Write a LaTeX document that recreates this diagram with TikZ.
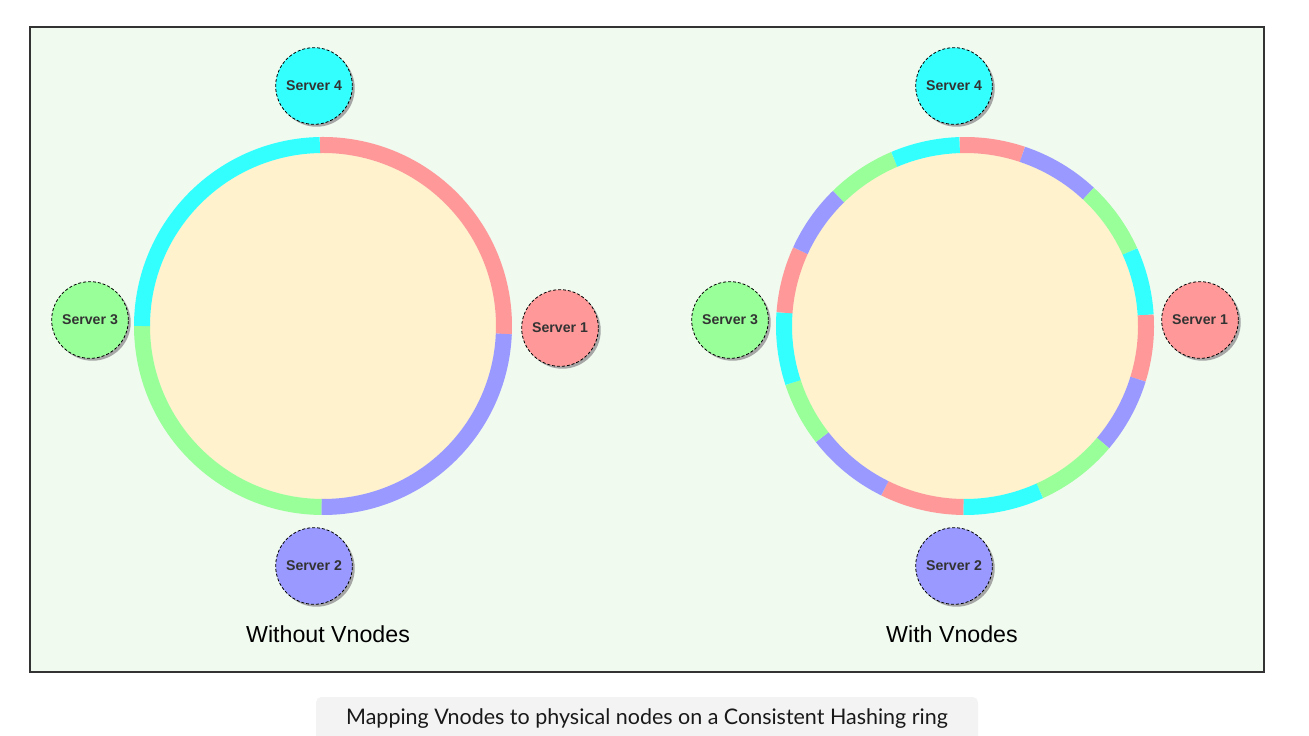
\documentclass[tikz,border=0pt]{standalone}
\usepackage{fontspec}
\setmainfont{Liberation Sans}
\newfontfamily\capfont{Lato}
\usetikzlibrary{shadows}
\definecolor{sred}{HTML}{FF9999}
\definecolor{sblue}{HTML}{9999FF}
\definecolor{sgreen}{HTML}{99FF99}
\definecolor{scyan}{HTML}{33FFFF}
\definecolor{cream}{HTML}{FFF2CC}
\definecolor{bgreen}{HTML}{F0FAEF}
\definecolor{frame}{HTML}{333333}
\definecolor{capbg}{HTML}{F3F3F3}
\definecolor{labtext}{HTML}{333333}
\tikzset{
  server/.style={circle, draw=black, dashed, dash pattern=on 2.2pt off 1.5pt, line width=0.6pt,
    minimum size=57.5pt, inner sep=0pt, text=labtext,
    font=\fontsize{10.6pt}{12pt}\selectfont\bfseries,
    drop shadow={shadow xshift=1.8pt, shadow yshift=-1.8pt, fill=black!35, opacity=1}},
  ringseg/.style={line width=12pt},
  title/.style={font=\fontsize{17.4pt}{20pt}\selectfont, text=black},
}
\begin{document}
\begin{tikzpicture}[x=0.75pt,y=0.75pt]
\useasboundingbox (0,0) rectangle (1309,735);
\fill[white] (0,0) rectangle (1309,735);
% frame
\draw[frame, fill=bgreen, line width=1.3pt] (30,63) rectangle (1264,708);
% left ring
\coordinate (L) at (323,409);
\fill[cream] (L) circle (129.75pt);
\draw[ringseg, sred]   ([shift={(L)}]91:135.75pt) arc (91:-2.5:135.75pt);
\draw[ringseg, sblue]  ([shift={(L)}]-2.5:135.75pt) arc (-2.5:-90.5:135.75pt);
\draw[ringseg, sgreen] ([shift={(L)}]-90.5:135.75pt) arc (-90.5:-180:135.75pt);
\draw[ringseg, scyan]  ([shift={(L)}]180:135.75pt) arc (180:91:135.75pt);
% right ring
\coordinate (R) at (965,409);
\fill[cream] (R) circle (129.75pt);
\foreach \a/\b/\c in {91.7/71.5/sred, 71.5/47/sblue, 47/24.3/sgreen, 24.3/3.5/scyan,
  3.5/-17.1/sred, -17.1/-40.3/sblue, -40.3/-65.6/sgreen, -65.6/-90.5/scyan,
  -90.5/-116.3/sred, -116.3/-142.1/sblue, -142.1/-161.8/sgreen, -161.8/-184.2/scyan,
  -184.2/-204.6/sred, -204.6/-225.7/sblue, -225.7/-247/sgreen, -247/-268.3/scyan}
  \draw[ringseg, \c] ([shift={(R)}]\a:135.75pt) arc (\a:\b:135.75pt);
% servers left
\node[server, fill=scyan]  (l4) at (314,649) {Server 4};
\node[server, fill=sred]   (l1) at (560,407) {Server 1};
\node[server, fill=sgreen] (l3) at (90,415)  {Server 3};
\node[server, fill=sblue]  (l2) at (314,169) {Server 2};
% servers right
\node[server, fill=scyan]  (r4) at (954,649) {Server 4};
\node[server, fill=sred]   (r1) at (1200,415) {Server 1};
\node[server, fill=sgreen] (r3) at (730,415) {Server 3};
\node[server, fill=sblue]  (r2) at (954,169) {Server 2};
% titles
\node[title] (t1) at (328,101) {Without Vnodes};
\node[title] (t2) at (952,101) {With Vnodes};
% caption
\fill[capbg, rounded corners=4pt] (316,-10) rectangle (978,38);
\node[font=\capfont\fontsize{16.1pt}{18pt}\selectfont, text=black!90] (cap) at (647,16) {Mapping Vnodes to physical nodes on a Consistent Hashing ring};
\end{tikzpicture}
\end{document}
